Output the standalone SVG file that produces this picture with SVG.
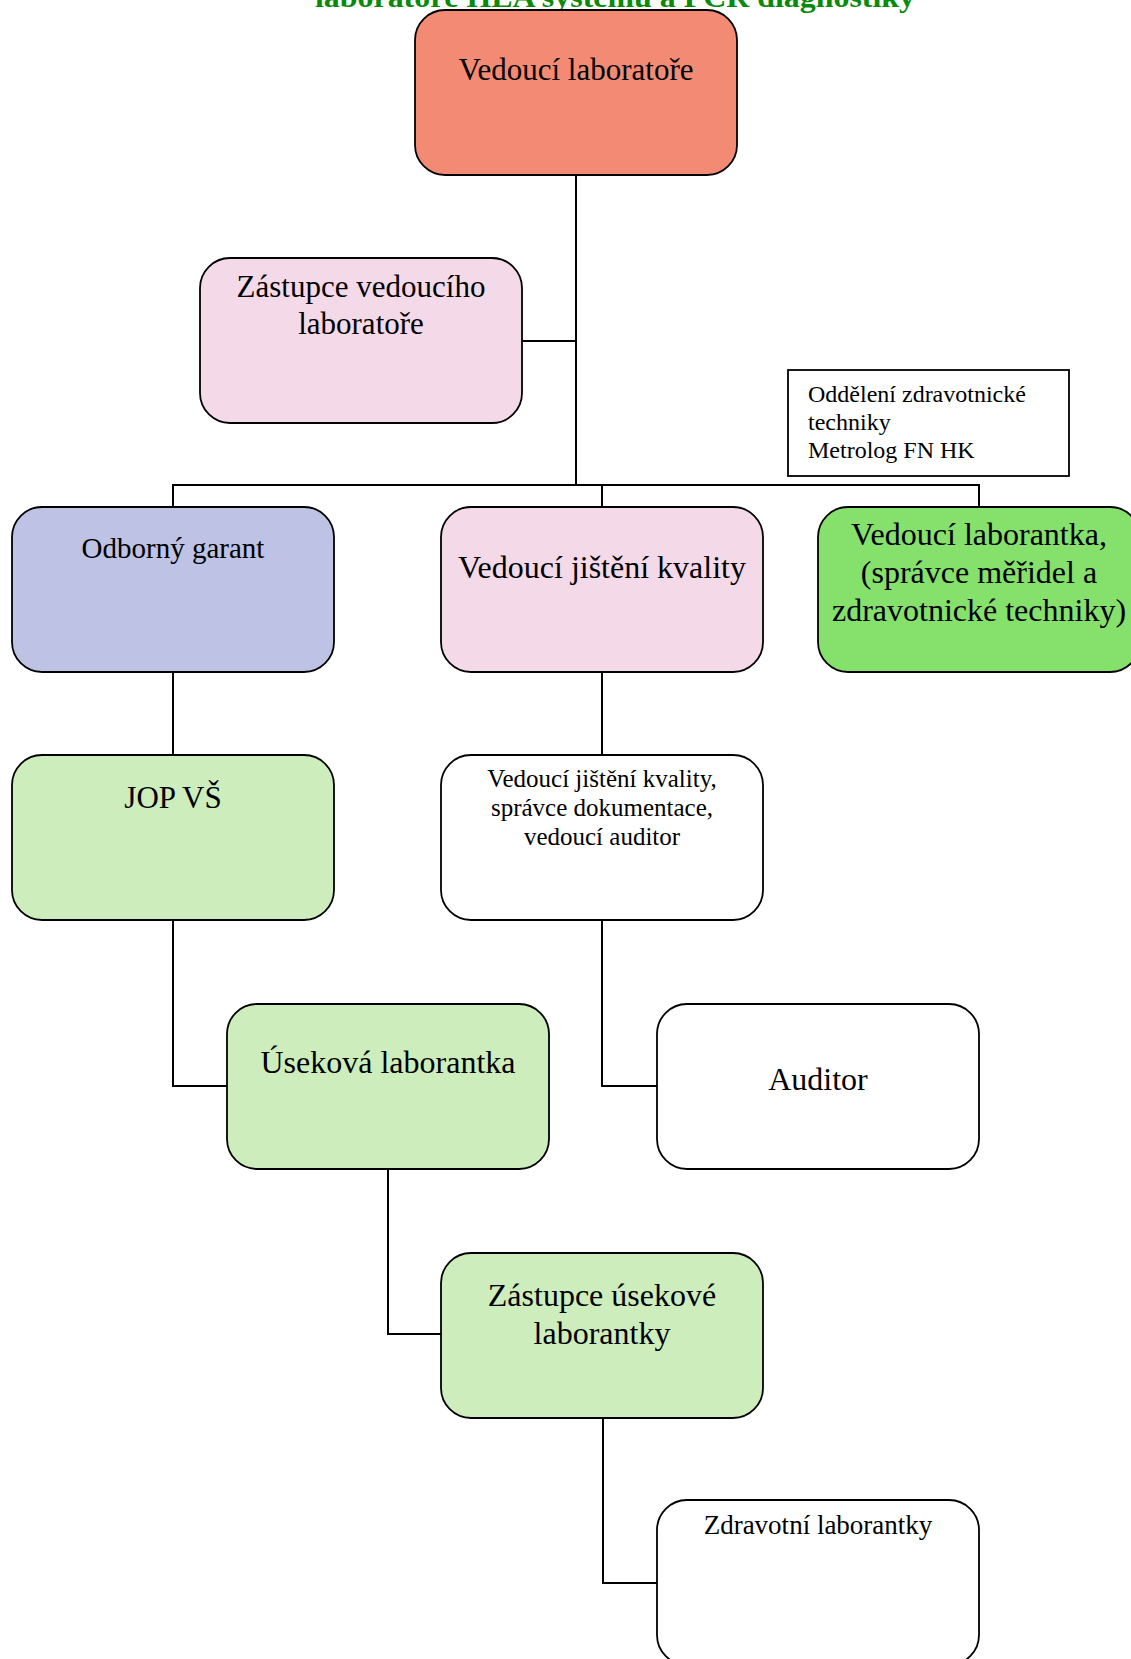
<svg xmlns="http://www.w3.org/2000/svg" width="1131" height="1659" viewBox="0 0 1131 1659">
<style>
.n{stroke:#000;stroke-width:1.8}
.t{font-family:"Liberation Serif","Times New Roman",serif;fill:#000;text-anchor:middle}
.c{fill:none;stroke:#000;stroke-width:2}
</style>
<rect width="1131" height="1659" fill="#fff"/>
<text x="615" y="7" font-family="Liberation Serif, serif" font-weight="bold" font-size="29" fill="#0a8a0a" text-anchor="middle" textLength="600" lengthAdjust="spacingAndGlyphs">laboratoře HLA systému a PCR diagnostiky</text>
<g id="connectors">
<path class="c" d="M576 175V485"/>
<path class="c" d="M522 341H576"/>
<path class="c" d="M173 507V485H979V507"/>
<path class="c" d="M602 485V507"/>
<path class="c" d="M173 672V755"/>
<path class="c" d="M173 920V1086H227"/>
<path class="c" d="M602 672V755"/>
<path class="c" d="M602 920V1086H657"/>
<path class="c" d="M388 1169V1334H441"/>
<path class="c" d="M603 1418V1583H657"/>
</g>
<g id="vedouci-laboratore">
<rect class="n" x="415" y="10" width="322" height="165" rx="30" fill="#F38B74"/>
<text class="t" x="576" y="80" font-size="31">Vedoucí laboratoře</text>
</g>
<g id="zastupce-vedouciho">
<rect class="n" x="200" y="258" width="322" height="165" rx="30" fill="#F4DAE8"/>
<text class="t" x="361" y="297" font-size="31">Zástupce vedoucího</text>
<text class="t" x="361" y="334" font-size="31">laboratoře</text>
</g>
<g id="oddeleni">
<rect class="n" x="788" y="370" width="281" height="106" fill="#fff" stroke-width="1.5"/>
<text class="t" x="808" y="402" font-size="24" text-anchor="start" style="text-anchor:start">Oddělení zdravotnické</text>
<text class="t" x="808" y="430" font-size="24" style="text-anchor:start">techniky</text>
<text class="t" x="808" y="458" font-size="24" style="text-anchor:start">Metrolog FN HK</text>
</g>
<g id="odborny-garant">
<rect class="n" x="12" y="507" width="322" height="165" rx="30" fill="#BEC2E4"/>
<text class="t" x="173" y="558" font-size="29">Odborný garant</text>
</g>
<g id="vedouci-jisteni-kvality">
<rect class="n" x="441" y="507" width="322" height="165" rx="30" fill="#F4DAE8"/>
<text class="t" x="602" y="578" font-size="32">Vedoucí jištění kvality</text>
</g>
<g id="vedouci-laborantka">
<rect class="n" x="818" y="507" width="322" height="165" rx="30" fill="#85E06C"/>
<text class="t" x="979" y="545" font-size="32">Vedoucí laborantka,</text>
<text class="t" x="979" y="583" font-size="32">(správce měřidel a</text>
<text class="t" x="979" y="621" font-size="32">zdravotnické techniky)</text>
</g>
<g id="jop-vs">
<rect class="n" x="12" y="755" width="322" height="165" rx="30" fill="#CDEEBC"/>
<text class="t" x="173" y="808" font-size="31">JOP VŠ</text>
</g>
<g id="vedouci-jisteni-kvality-2">
<rect class="n" x="441" y="755" width="322" height="165" rx="30" fill="#fff"/>
<text class="t" x="602" y="787" font-size="25">Vedoucí jištění kvality,</text>
<text class="t" x="602" y="816" font-size="25">správce dokumentace,</text>
<text class="t" x="602" y="845" font-size="25">vedoucí auditor</text>
</g>
<g id="usekova-laborantka">
<rect class="n" x="227" y="1004" width="322" height="165" rx="30" fill="#CDEEBC"/>
<text class="t" x="388" y="1073" font-size="32">Úseková laborantka</text>
</g>
<g id="auditor">
<rect class="n" x="657" y="1004" width="322" height="165" rx="30" fill="#fff"/>
<text class="t" x="818" y="1090" font-size="32">Auditor</text>
</g>
<g id="zastupce-usekove">
<rect class="n" x="441" y="1253" width="322" height="165" rx="30" fill="#CDEEBC"/>
<text class="t" x="602" y="1306" font-size="32">Zástupce úsekové</text>
<text class="t" x="602" y="1344" font-size="32">laborantky</text>
</g>
<g id="zdravotni-laborantky">
<rect class="n" x="657" y="1500" width="322" height="165" rx="30" fill="#fff"/>
<text class="t" x="818" y="1534" font-size="27">Zdravotní laborantky</text>
</g>
</svg>
